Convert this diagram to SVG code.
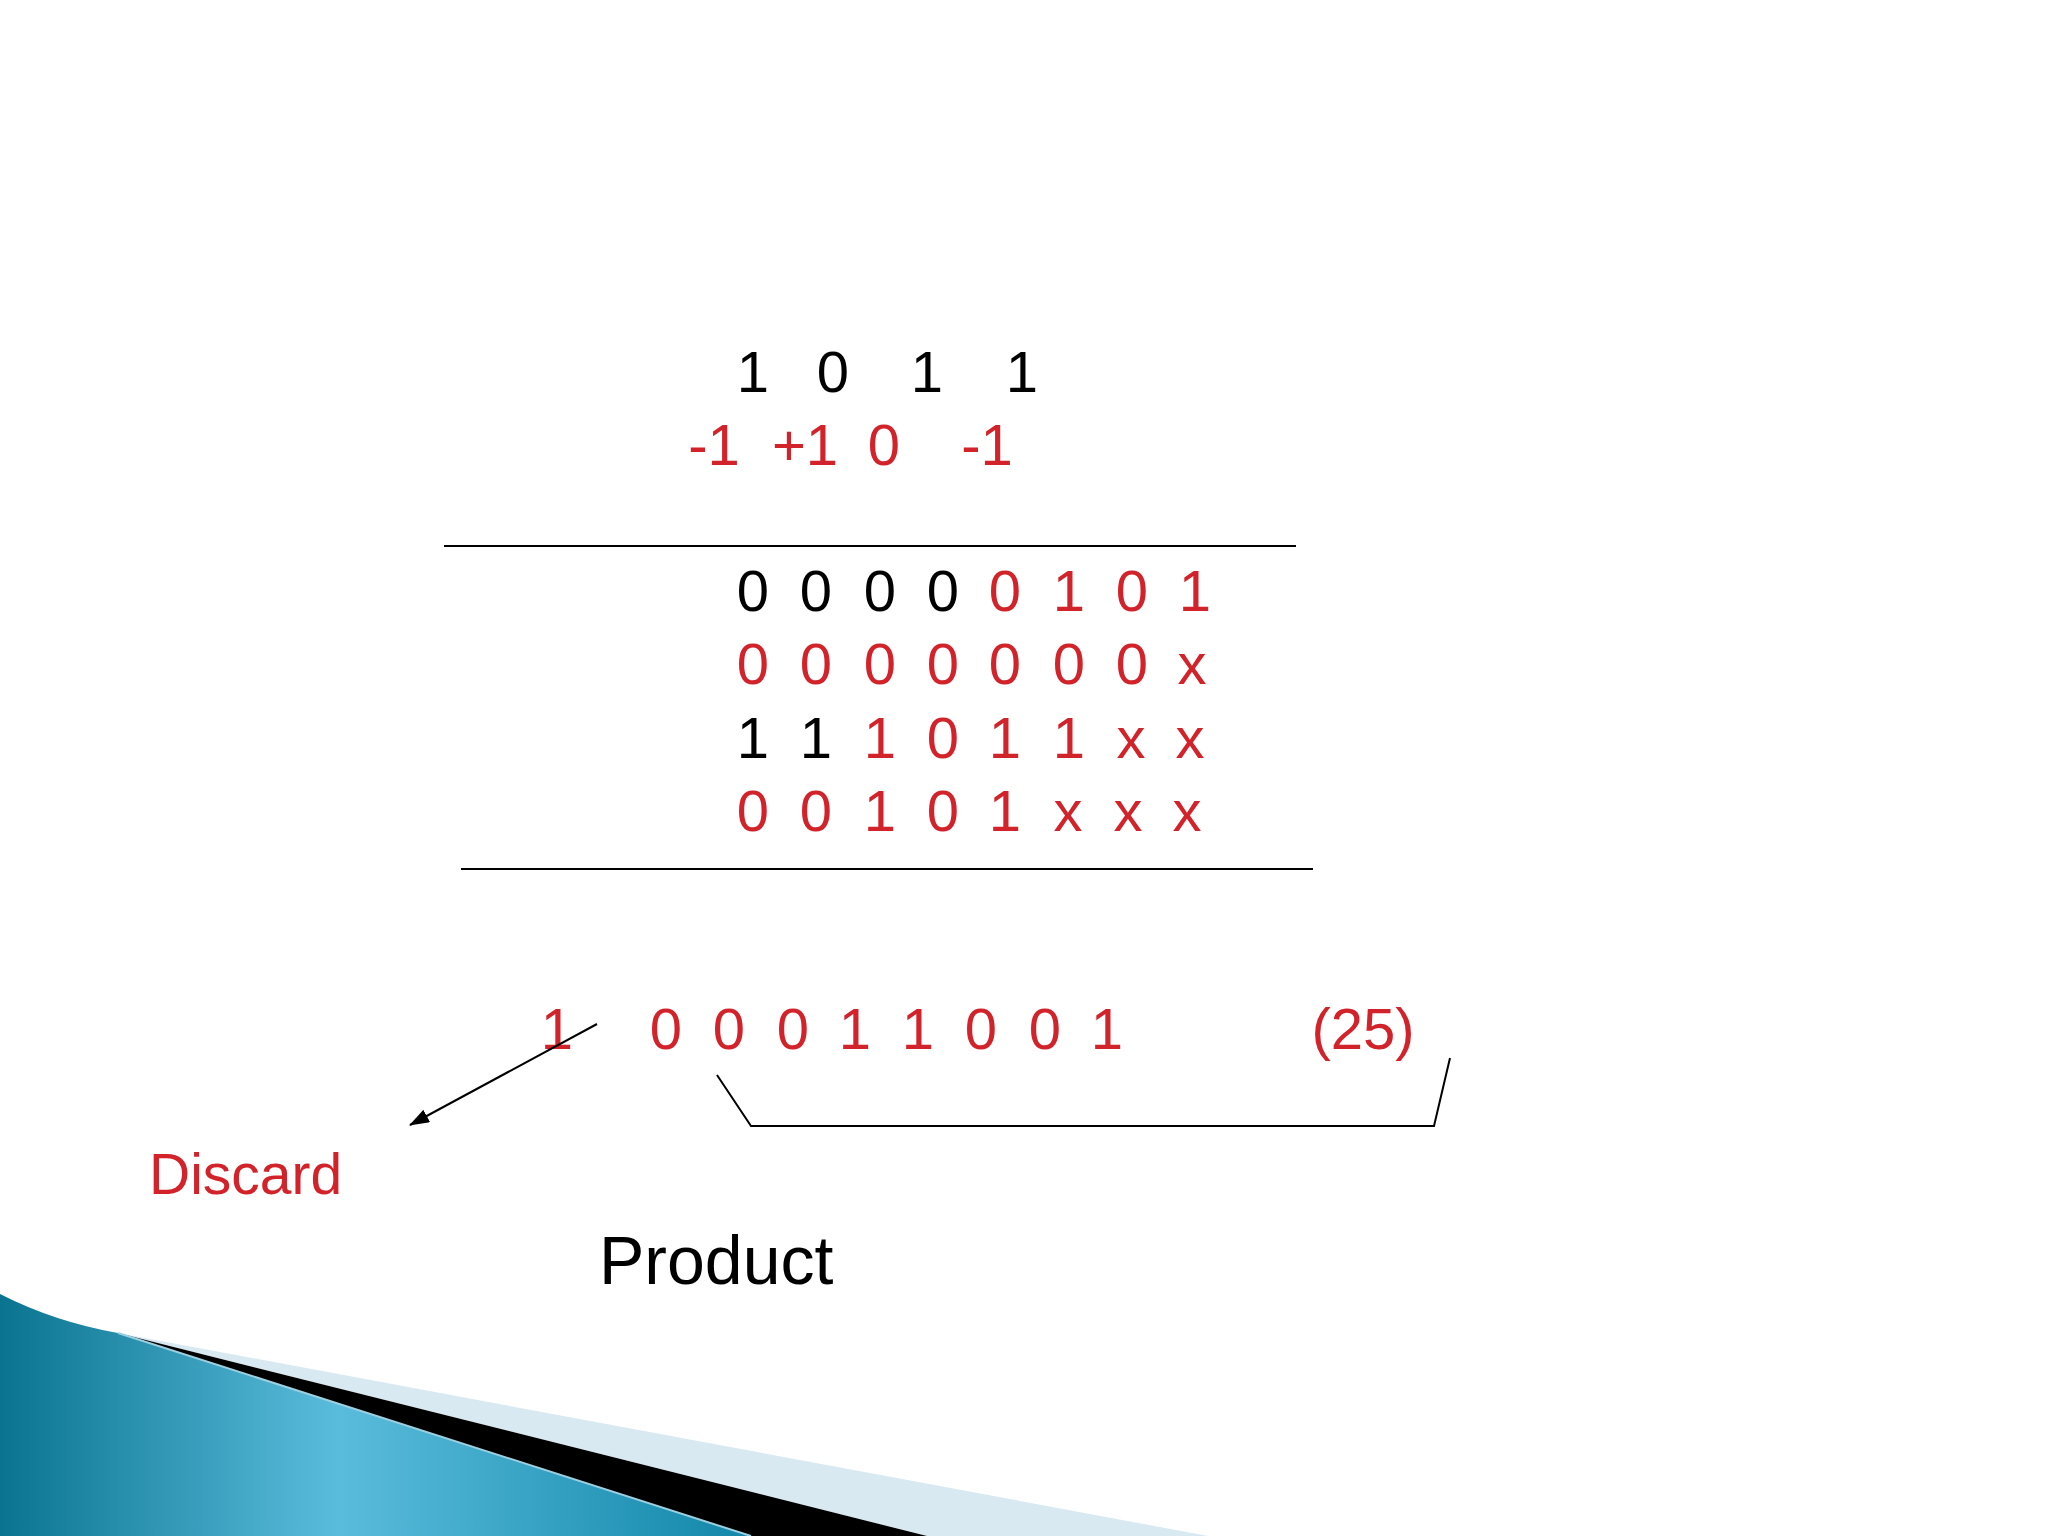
<svg xmlns="http://www.w3.org/2000/svg" width="2048" height="1536" viewBox="0 0 2048 1536">
<style>
text{font-family:"Liberation Sans",Arial,sans-serif;font-size:58px;text-anchor:middle}
.k{fill:#000}
.r{fill:#D2232A}
.ln{stroke:#000;stroke-width:2;fill:none}
</style>
<defs>
<linearGradient id="teal" x1="0" y1="0" x2="1" y2="0">
<stop offset="0" stop-color="#0A7490"/>
<stop offset="0.45" stop-color="#5ABCDC"/>
<stop offset="1" stop-color="#1287A9"/>
</linearGradient>
<marker id="ah" markerWidth="20" markerHeight="14" refX="19" refY="7" orient="auto" markerUnits="userSpaceOnUse" viewBox="0 0 20 14">
<path d="M0,0 L20,7 L0,14 z" fill="#000"/>
</marker>
</defs>
<rect width="2048" height="1536" fill="#fff"/>
<g id="swoosh">
<polygon points="118,1333 1208,1536 927,1536" fill="#D8E9F1"/>
<polygon points="118,1333 927,1536 751,1536" fill="#000"/>
<path d="M0,1294 Q55,1322 118,1333 L751,1536 L0,1536 Z" fill="url(#teal)"/>
<line x1="118" y1="1333" x2="751" y2="1536" stroke="#9CCFE0" stroke-width="2"/>
</g>
<g id="multiplicand">
<text class="k" x="753" y="392">1</text>
<text class="k" x="833" y="392">0</text>
<text class="k" x="927" y="392">1</text>
<text class="k" x="1022" y="392">1</text>
</g>
<g id="recoded">
<text class="r" x="714" y="465">-1</text>
<text class="r" x="805" y="465">+1</text>
<text class="r" x="884" y="465">0</text>
<text class="r" x="987" y="465">-1</text>
</g>
<g id="lines">
<line class="ln" x1="444" y1="546" x2="1296" y2="546"/>
<line class="ln" x1="461" y1="869" x2="1313" y2="869"/>
</g>
<g id="row1">
<text class="k" x="753" y="611">0</text>
<text class="k" x="816" y="611">0</text>
<text class="k" x="880" y="611">0</text>
<text class="k" x="943" y="611">0</text>
<text class="r" x="1005" y="611">0</text>
<text class="r" x="1069" y="611">1</text>
<text class="r" x="1132" y="611">0</text>
<text class="r" x="1195" y="611">1</text>
</g>
<g id="row2">
<text class="r" x="753" y="684">0</text>
<text class="r" x="816" y="684">0</text>
<text class="r" x="880" y="684">0</text>
<text class="r" x="943" y="684">0</text>
<text class="r" x="1005" y="684">0</text>
<text class="r" x="1069" y="684">0</text>
<text class="r" x="1132" y="684">0</text>
<text class="r" x="1192" y="684">x</text>
</g>
<g id="row3">
<text class="k" x="753" y="758">1</text>
<text class="k" x="816" y="758">1</text>
<text class="r" x="880" y="758">1</text>
<text class="r" x="943" y="758">0</text>
<text class="r" x="1005" y="758">1</text>
<text class="r" x="1069" y="758">1</text>
<text class="r" x="1131" y="758">x</text>
<text class="r" x="1190" y="758">x</text>
</g>
<g id="row4">
<text class="r" x="753" y="831">0</text>
<text class="r" x="816" y="831">0</text>
<text class="r" x="880" y="831">1</text>
<text class="r" x="943" y="831">0</text>
<text class="r" x="1005" y="831">1</text>
<text class="r" x="1068" y="831">x</text>
<text class="r" x="1128" y="831">x</text>
<text class="r" x="1187" y="831">x</text>
</g>
<g id="result">
<text class="r" x="557" y="1049">1</text>
<text class="r" x="666" y="1049">0</text>
<text class="r" x="729" y="1049">0</text>
<text class="r" x="793" y="1049">0</text>
<text class="r" x="855" y="1049">1</text>
<text class="r" x="918" y="1049">1</text>
<text class="r" x="981" y="1049">0</text>
<text class="r" x="1045" y="1049">0</text>
<text class="r" x="1107" y="1049">1</text>
<text class="r" x="1363" y="1049">(25)</text>
</g>
<g id="connectors">
<line class="ln" x1="597" y1="1024" x2="410" y2="1125" marker-end="url(#ah)"/>
<polyline class="ln" points="717,1075 751,1126 1434,1126 1450,1058"/>
</g>
<g id="discard">
<text class="r" x="149" y="1194" style="text-anchor:start;font-size:57px">Discard</text>
</g>
<g id="product">
<text class="k" x="599" y="1284" style="text-anchor:start;font-size:68px">Product</text>
</g>
</svg>
